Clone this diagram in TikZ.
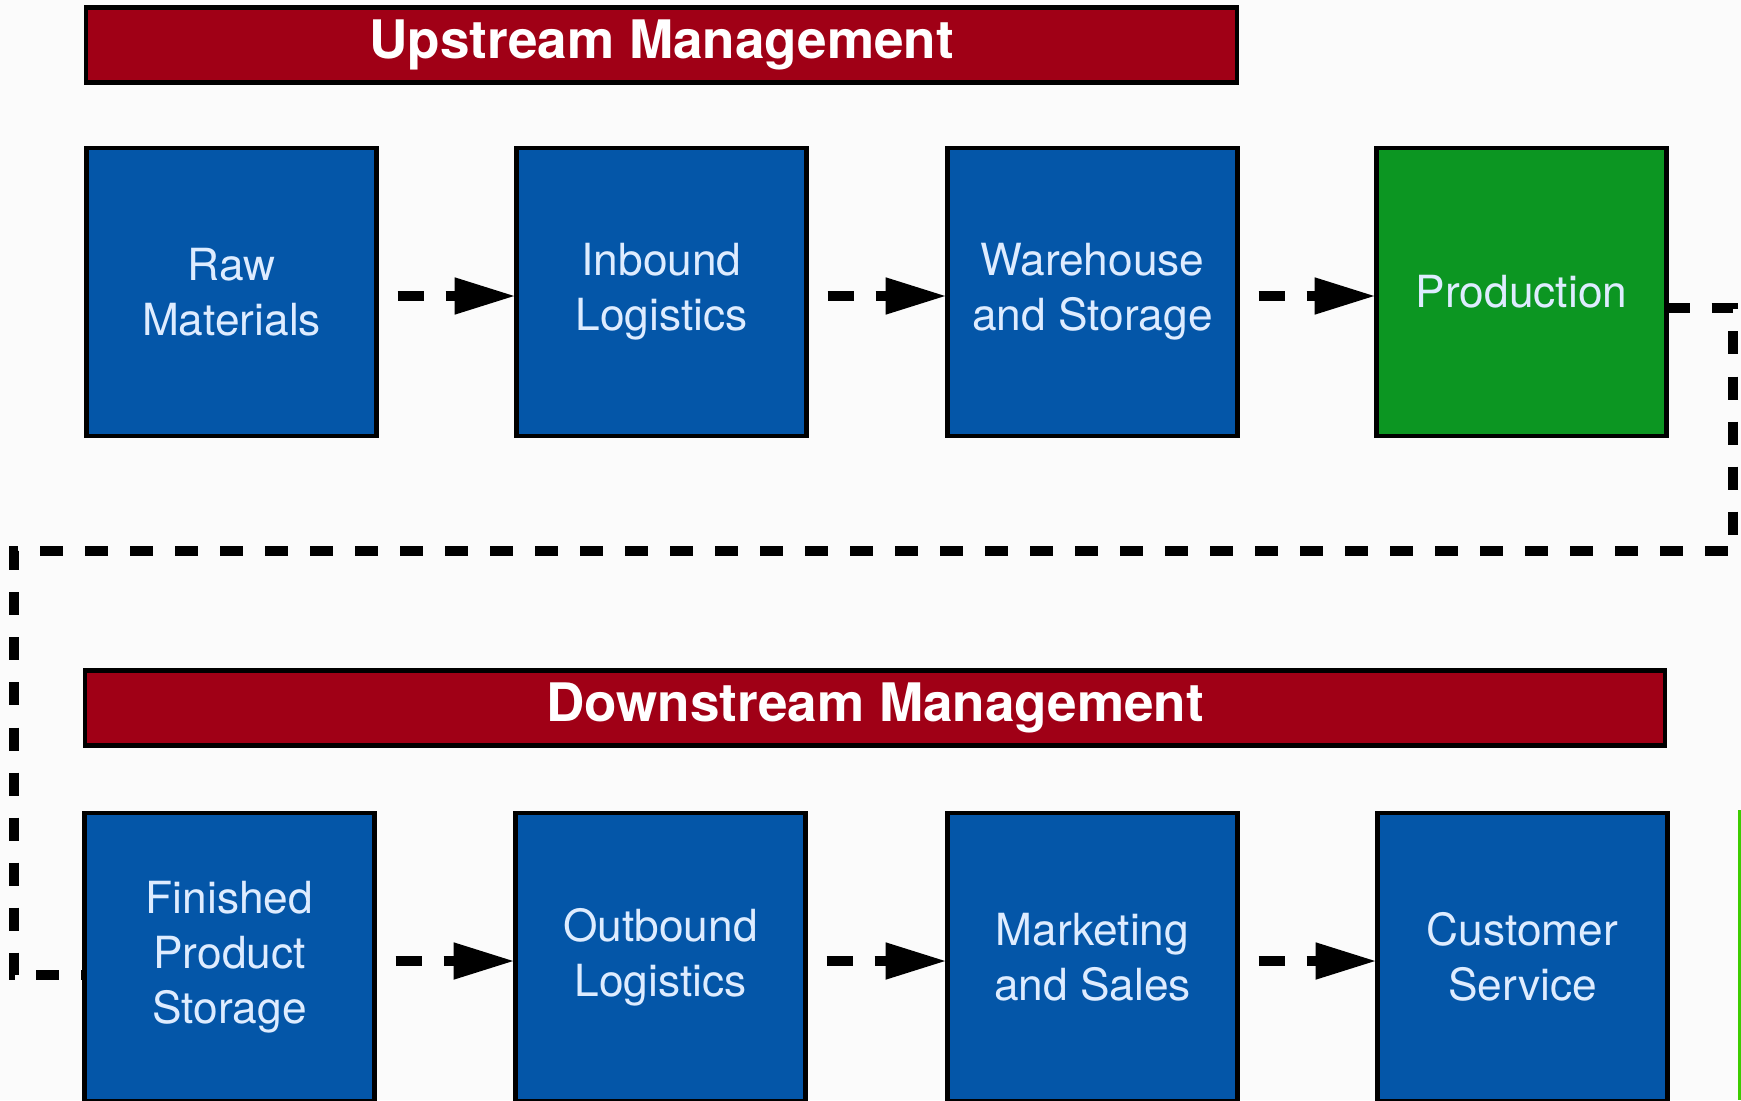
\documentclass[tikz,border=0pt]{standalone}
\usepackage{fontspec}
\setmainfont{TeX Gyre Heros}
\usetikzlibrary{arrows.meta, positioning}

\definecolor{stageblue}{RGB}{4,86,168}
\definecolor{stagegreen}{RGB}{12,150,34}
\definecolor{barred}{RGB}{160,0,22}
\definecolor{stagetext}{RGB}{222,236,255}
\definecolor{pagegray}{RGB}{251,251,251}

\tikzset{
  stage/.style={draw=black, line width=1.2pt, fill=stageblue, text=stagetext,
    minimum width=2.9cm, minimum height=2.88cm, inner sep=0pt, outer sep=0pt,
    align=center, font=\fontsize{12.6}{15.6}\selectfont},
  bar/.style={draw=black, line width=1.2pt, fill=barred, text=white, outer sep=0pt,
    minimum height=0.75cm, inner sep=0pt, font=\fontsize{15.1}{18}\selectfont\bfseries},
  flowarrow/.style={line width=3.1pt, dash pattern=on 2.6mm off 2.2mm,
    -{Triangle[length=6.2mm,width=3.4mm]}},
  flowline/.style={line width=3.1pt, dash pattern=on 2.3mm off 2.2mm}
}

\begin{document}
\begin{tikzpicture}
  \clip (0,0) rectangle (17.41,-11);
  \fill[pagegray] (0,0) rectangle (17.41,-11);

  % upstream row
  \node[bar, minimum width=11.51cm] (up) at (6.615,-0.45) {Upstream Management};
  \node[stage] (raw) at (2.315,-2.92) {Raw\\Materials};
  \node[stage, right=1.4cm of raw] (inb) {Inbound\\Logistics};
  \node[stage, right=1.41cm of inb] (ware) {Warehouse\\and Storage};
  \node[stage, fill=stagegreen, right=1.39cm of ware] (prod) {Production};

  % downstream row
  \node[bar, minimum width=15.8cm] (down) at (8.75,-7.08) {Downstream Management};
  \node[stage] (fin) at (2.295,-9.57) {Finished\\Product\\Storage};
  \node[stage, right=1.41cm of fin] (outb) {Outbound\\Logistics};
  \node[stage, right=1.42cm of outb] (mkt) {Marketing\\and Sales};
  \node[stage, right=1.40cm of mkt] (cust) {Customer\\Service};

  \foreach \a/\b in {raw/inb, inb/ware, ware/prod, fin/outb, outb/mkt, mkt/cust}
    \draw[flowarrow] ([xshift=2.1mm,yshift=-0.4mm]\a.east) -- ([yshift=-0.4mm]\b.west);

  % link between the two rows
  \coordinate (turnA) at (17.33,-5.51);
  \coordinate (turnB) at (0.14,-5.51);
  \draw[flowline] ([yshift=-1.6mm]prod.east) -| (turnA) -- (turnB)
    |- ([yshift=-1.8mm]fin.west);

  \fill[green!60!lime!80!black] (17.38,-8.1) rectangle (17.41,-11);
\end{tikzpicture}
\end{document}
